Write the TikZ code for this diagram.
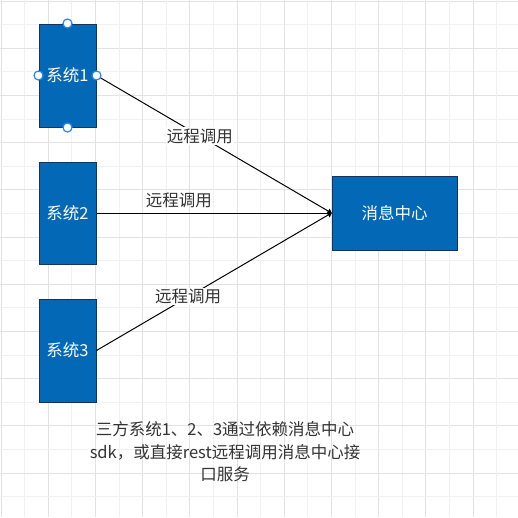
\documentclass[tikz,border=0pt]{standalone}
\usepackage{fontspec}
\setmainfont{Noto Sans CJK SC}
\usetikzlibrary{arrows.meta}
\definecolor{boxblue}{HTML}{0369B7}
\definecolor{boxline}{HTML}{14335F}
\definecolor{gridmajor}{HTML}{E2E2E2}
\definecolor{gridminor}{HTML}{F1F1F1}
\definecolor{txtgray}{HTML}{333333}
\definecolor{handleblue}{HTML}{2A84F0}
\tikzset{
  sysbox/.style={draw=boxline, fill=boxblue, text=white, line width=1pt,
    font=\fontsize{16.5}{20}\selectfont, inner sep=0pt},
  handle/.style={circle, draw=handleblue, fill=white, line width=1.2pt,
    minimum size=9pt, inner sep=0pt},
  lbl/.style={font=\fontsize{16.5}{20}\selectfont, text=txtgray, inner sep=1pt},
  link/.style={line width=1pt, -{Stealth[length=5pt,width=7pt,round]}},
}
\begin{document}
\begin{tikzpicture}[x=1pt, y=-1pt]
\useasboundingbox (0,0) rectangle (518,517);
% grid
\foreach \k in {0,...,22} {
  \pgfmathtruncatemacro{\even}{mod(\k,2)}
  \ifnum\even=0 \def\gc{gridmajor}\else\def\gc{gridminor}\fi
  \draw[\gc, line width=1pt] (1+23.6*\k,0) -- (1+23.6*\k,517);
  \draw[\gc, line width=1pt] (0,1+23.6*\k) -- (518,1+23.6*\k);
}

% boxes
\node[sysbox, minimum width=57pt, minimum height=103pt] (sys1) at (67.5,75.5) {系统1};
\node[sysbox, minimum width=57pt, minimum height=102pt] (sys2) at (67.5,213) {系统2};
\node[sysbox, minimum width=57pt, minimum height=103pt] (sys3) at (67.5,350.5) {系统3};
\node[sysbox, minimum width=125pt, minimum height=74pt] (msg) at (394.5,213) {消息中心};

% connectors
\draw[link] (sys1.east) -- (msg.west)
  node[lbl, fill=white, pos=0.44] (lbl1) {远程调用};
\draw[link] (sys2.east) -- (msg.west)
  node[lbl, pos=0.35, yshift=12.5pt] (lbl2) {远程调用};
\draw[link] (sys3.east) -- (msg.west)
  node[lbl, fill=white, pos=0.39] (lbl3) {远程调用};

% selection handles
\node[handle] (h1) at (sys1.north) {};
\node[handle] (h2) at (sys1.west) {};
\node[handle] (h3) at (sys1.east) {};
\node[handle] (h4) at (sys1.south) {};

\node[lbl, align=center, font=\fontsize{16.5}{22.5}\selectfont] (note) at (225,452)
  {三方系统1、2、3通过依赖消息中心\\sdk，或直接rest远程调用消息中心接\\口服务};
\end{tikzpicture}
\end{document}
